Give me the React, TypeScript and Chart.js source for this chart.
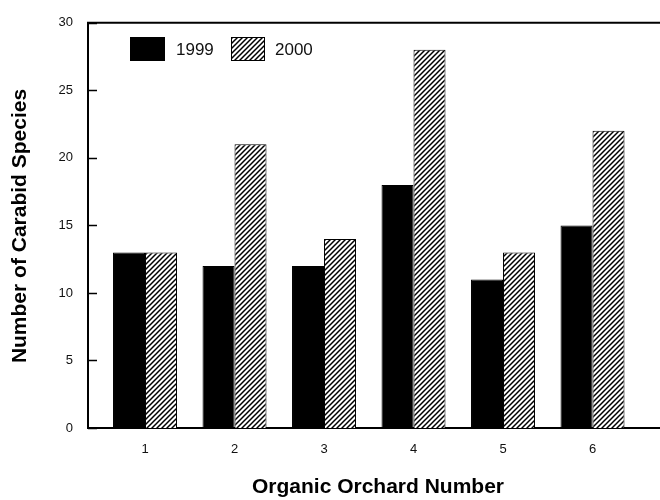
import React, { useEffect, useRef } from "react";
import { Chart, registerables } from "chart.js";

Chart.register(...registerables);

const categories = ["1", "2", "3", "4", "5", "6"];
const series1999 = [13, 12, 12, 18, 11, 15];
const series2000 = [13, 21, 14, 28, 13, 22];
const seriesNames = ["1999", "2000"];
const yTicks = [0, 5, 10, 15, 20, 25, 30];
const yTitle = "Number of Carabid Species";
const xTitle = "Organic Orchard Number";

function makeHatch(): CanvasPattern | string {
  const s = 5;
  const c = document.createElement("canvas");
  c.width = s;
  c.height = s;
  const ctx = c.getContext("2d");
  if (!ctx) return "#888";
  ctx.fillStyle = "#fff";
  ctx.fillRect(0, 0, s, s);
  ctx.strokeStyle = "#000";
  ctx.lineWidth = 1.5;
  ctx.beginPath();
  ctx.moveTo(0, s);
  ctx.lineTo(s, 0);
  ctx.moveTo(-1, 1);
  ctx.lineTo(1, -1);
  ctx.moveTo(s - 1, s + 1);
  ctx.lineTo(s + 1, s - 1);
  ctx.stroke();
  const p = ctx.createPattern(c, "repeat");
  return p || "#888";
}

export default function App() {
  const ref = useRef<HTMLCanvasElement>(null);

  useEffect(() => {
    document.body.style.margin = "0";
    const canvas = ref.current;
    if (!canvas) return;
    const hatch = makeHatch();
    const font = "'Liberation Sans', Arial, Helvetica, sans-serif";

    const overlay = {
      id: "overlay",
      afterDraw(chart: any) {
        const { ctx, chartArea } = chart;
        const y = chart.scales.y;
        ctx.save();
        // top border line
        ctx.strokeStyle = "#000";
        ctx.lineWidth = 2;
        ctx.beginPath();
        ctx.moveTo(chartArea.left - 1, chartArea.top);
        ctx.lineTo(chart.width, chartArea.top);
        ctx.stroke();
        // inward y ticks
        ctx.lineWidth = 1.5;
        ctx.beginPath();
        yTicks.forEach((v) => {
          const py = Math.round(y.getPixelForValue(v)) + 0.5;
          ctx.moveTo(chartArea.left, py);
          ctx.lineTo(chartArea.left + 9, py);
        });
        ctx.stroke();
        // legend
        ctx.fillStyle = "#000";
        ctx.fillRect(130, 37, 35, 24);
        ctx.fillStyle = hatch as any;
        ctx.fillRect(231, 37, 34, 24);
        ctx.lineWidth = 1;
        ctx.strokeStyle = "#000";
        ctx.strokeRect(231.5, 37.5, 33, 23);
        ctx.fillStyle = "#111";
        ctx.font = `17px ${font}`;
        ctx.textBaseline = "middle";
        ctx.textAlign = "left";
        ctx.fillText(seriesNames[0], 176, 50);
        ctx.fillText(seriesNames[1], 275, 50);
        // titles
        ctx.fillStyle = "#000";
        ctx.font = `bold 21px ${font}`;
        ctx.textAlign = "center";
        ctx.textBaseline = "middle";
        ctx.fillText(xTitle, 378, 487);
        ctx.translate(20, 226);
        ctx.rotate(-Math.PI / 2);
        ctx.fillText(yTitle, 0, 0);
        ctx.restore();
      },
    };

    const chart = new Chart(canvas, {
      type: "bar",
      data: {
        datasets: [
          {
            label: seriesNames[0],
            data: series1999.map((v, i) => ({ x: i + 1, y: v })),
            backgroundColor: "#000",
            borderColor: "#000",
            borderWidth: 1,
            categoryPercentage: 0.715,
            barPercentage: 1,
          },
          {
            label: seriesNames[1],
            data: series2000.map((v, i) => ({ x: i + 1, y: v })),
            backgroundColor: hatch as any,
            borderColor: "#000",
            borderWidth: 1,
            categoryPercentage: 0.715,
            barPercentage: 1,
          },
        ],
      },
      options: {
        responsive: false,
        animation: false,
        layout: { padding: { top: 11, right: 0, left: 0, bottom: 0 } },
        plugins: {
          legend: { display: false },
          tooltip: { enabled: false },
        },
        scales: {
          x: {
            type: "linear",
            offset: false,
            min: 0.363,
            max: 6.754,
            grid: { display: false, drawTicks: false, offset: false },
            border: { display: true, color: "#000", width: 2 },
            afterBuildTicks: (scale: any) => {
              scale.ticks = categories.map((_, i) => ({ value: i + 1 }));
            },
            afterFit: (scale: any) => {
              scale.height = 72;
            },
            ticks: {
              padding: 14,
              color: "#111",
              font: { family: font, size: 13 },
              callback: (v: any) => categories[Number(v) - 1] ?? "",
              maxRotation: 0,
              autoSkip: false,
            },
          },
          y: {
            min: 0,
            max: 30,
            grid: { display: false, drawTicks: false },
            border: { display: true, color: "#000", width: 2 },
            afterBuildTicks: (scale: any) => {
              scale.ticks = yTicks.map((v) => ({ value: v }));
            },
            afterFit: (scale: any) => {
              scale.width = 88;
            },
            ticks: {
              padding: 15,
              color: "#111",
              font: { family: font, size: 13 },
            },
          },
        },
      },
      plugins: [overlay],
    });
    return () => chart.destroy();
  }, []);

  return (
    <div style={{ width: 660, height: 500 }}>
      <canvas ref={ref} width={660} height={500} />
    </div>
  );
}
